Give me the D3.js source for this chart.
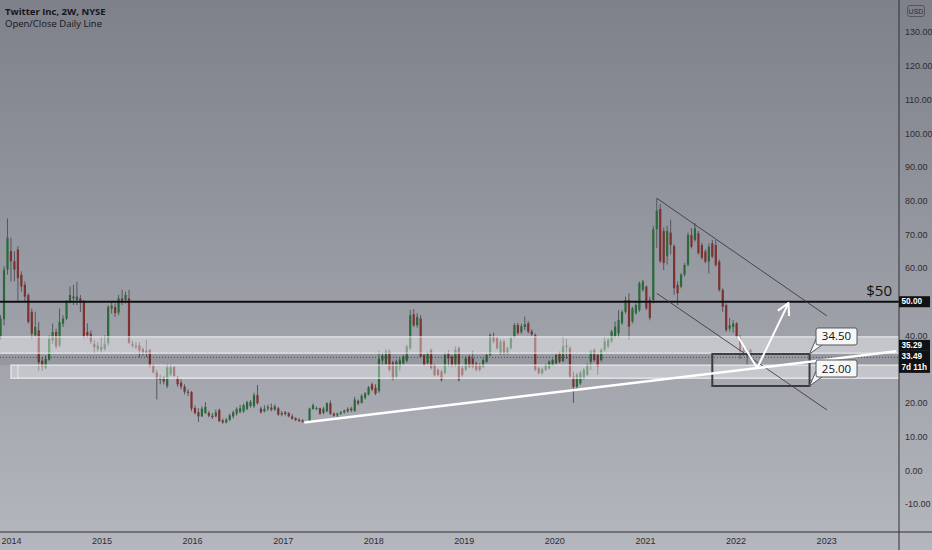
<!DOCTYPE html>
<html><head><meta charset="utf-8">
<script src="https://cdn.jsdelivr.net/npm/d3@7"></script>
<style>html,body{margin:0;padding:0;overflow:hidden;background:#9a9ca3}svg{display:block}</style>
</head><body><svg id="c" width="932" height="550"></svg>
<script>
// ---- data: Twitter Inc, 2W bars, first bar 2013-10-28 ----
const barStart = "2013-10-28";
const barDays = 14;
const open = [45.1,41.6,39.5,44.8,59.5,65,62,65.5,58,55,52,47,40,41.5,32.5,30.5,32.8,38.5,41,37,43.5,45,50,51.5,50.5,51,50,41,40.5,37.5,36,36.5,36,37.7,48,48.4,46.8,51,50.5,51,37.5,37,37,36,35.5,35.7,31,29,26.8,27.7,25,28.5,30.6,27.5,26,24.8,23.3,23.2,18.5,17.2,16,17,17,16.2,16,17.9,14.8,14.2,15,16,16.8,17.3,17.5,18.2,19,19,22.3,18.3,17.5,18.3,18.6,18,18.4,16.5,17.2,16.9,16,15.4,15,14.8,14.4,14.4,18.2,18.3,18.4,17,17.5,19.9,16.8,16.3,16.8,17.2,17.5,18.3,17.6,20.6,20,21.5,22.5,25.5,24.5,23.5,32.5,31.5,35.2,32,27.8,30.8,31.7,32.5,36.2,46.3,43,45,34.2,31.8,35.7,31.2,29.8,29.3,28.9,34.8,33.7,31.2,36.3,30.3,29.8,33.7,33.2,31.7,31.2,30.7,32.2,34.2,39.6,39.2,34.7,38.2,34.7,36.2,39.6,43.1,41,42.5,43.6,41.2,40.1,30.3,28.8,29.8,30.2,31.2,31.7,34.8,32.4,36.5,36.3,27.8,24.8,25.8,27.4,28.3,32.2,35.7,34.2,32.7,35.7,36.7,38.2,39.7,40.6,43.6,47,50.5,44.1,46.6,47.5,53.5,54.5,50.5,50.5,71.5,77.5,71,63.5,70.5,66.5,55,54.5,58,61,69.8,68.3,70.3,66.8,64.9,61.9,67.3,66.8,61.9,53.5,49,42,42.5,43.6,39.7,35.5,35,35.7];
const high = [50.1,44.5,46,60.5,74.7,69,65,66.5,59,56,52.5,48,47,44,33.5,34,40,43.5,42,48,46,50.5,54.5,55,55.9,52,50.5,43.6,41.5,38.6,38,39.5,40,49,50,49.5,52,53.5,53,53.5,38.5,38,38,36.5,38.7,36,31.5,29.8,28.3,28,31.5,31.5,31,28,27,25.5,24,23.5,19.2,18.4,19,20.2,17.6,17,18,18.3,15.3,15.5,16.8,17.7,18.7,19.4,19.8,20.6,20.8,23,25.3,18.9,19.3,19.5,19.8,19.5,18.8,17.6,17.6,17.3,16.7,15.8,15.5,15.2,14.7,18.6,19.8,18.9,18.6,18.8,20.2,20.7,17.2,17.1,17.6,18,18.7,18.9,21.8,21,22.6,23.2,25,26,25.5,35.5,35,35.9,35.9,32.5,32.8,33.5,34.2,37.2,47.6,47.8,46.6,46,34.8,35.2,36.2,31.6,30.2,29.8,35,35.7,34.2,36.7,36.7,31.1,33.8,34.2,35.5,32.2,31.7,33.2,34.7,40.6,40.8,39.7,38.8,38.7,36.7,39.7,43.6,43.8,43.5,45.6,44.2,41.8,40.6,30.8,30.5,31.6,32.6,33.1,34.7,35.2,39.7,39,36.8,29.3,29,29.5,30.3,31.7,35.7,36.2,34.7,36.2,39.7,39.2,41.6,44.1,47.5,47.5,51.5,52.5,48.5,49.5,56,56.5,54.8,51.5,72.5,80.7,79,72,72.5,74.3,67,56,58.5,61.5,70.5,71.8,73.3,71,67.5,65.5,67.3,68.3,68.3,62.5,54,49.5,45.2,44.5,44,40.1,36.5,36.2,36];
const low = [40.7,38.8,38.8,43,58,56,56,50.3,53,50,43.5,39,39.5,29.5,29.5,30,32.5,37.5,36,36.5,42.5,44.5,49.5,49,49,47,39,39.2,37.5,34.8,35.2,35,35.5,37,46.5,45.5,46,49,49.5,37.5,36.3,36,33.5,34,33.6,30.5,28.7,21,25.5,25.5,24.4,28,27.7,24.8,24,22.5,22,17.5,16.5,14.3,15.8,16.7,15.7,15.2,15.7,14.3,13.8,13.9,14.6,15.4,16.2,16.9,17,17.8,18.6,18.5,19.5,16.8,17.2,17.6,17.5,17.6,16.2,16,16.2,15.7,15,14.6,14.3,14.1,13.9,14.2,17.9,17.8,16.4,16.6,17.2,16.4,15.9,15.8,16.4,16.8,17.1,17.3,17.3,19.3,19.8,21,22.2,23.5,22.3,23,31,31,29.3,26.7,27.3,29.5,31.3,32,35.7,42.5,42.3,33.5,30.8,31.3,29.8,27.8,27.9,26.3,28.4,30.8,30.5,30.7,26.3,27.8,29.4,30.3,30.2,29.3,29.3,30.3,31.8,33.8,37.6,35.8,34.2,34.2,34.3,35.8,39.2,40.2,40.5,41.6,40.6,39.8,29.4,28.4,28.4,29.4,29.9,30.9,31.4,31.8,32.1,33,27.3,20,23.8,25.3,26.9,27.9,29.8,32.2,28.3,32.2,35.2,36.2,37.8,39.2,39.2,43.2,46.5,38.7,43.6,46.2,47,53,47.5,44.5,49.5,66,61.5,59.4,61,64,52,49,54,57.5,60.5,65.8,67.8,64,62.5,61.4,58.4,62.9,60.4,53,47,41,41.2,40.8,39.2,33,34,31.3,33.2];
const close = [41.6,40.8,45,59.5,69,62,59.5,57,54.5,51.5,44,40.5,42.5,32,30.8,33,39,41,36.7,44,45,50,52,51,51.5,50,39.7,40,38.2,36.5,37,35.8,37.5,48.4,48.8,46.6,51,50,52,37.8,37,36.5,35.5,35,34.8,31,29,27,27.5,26.3,30.5,30.5,28,25.5,24.8,23.3,23.1,18.3,17,16,18.3,18.8,16.2,15.8,17.2,14.6,14.2,15,16.3,17.2,18.2,18.4,19.3,20.2,20.3,22.3,19.9,17.2,18.2,18.8,18,19,16.5,17,16.7,16,15.3,14.9,14.6,14.4,14.1,18.3,19.3,18.5,16.8,18.3,19.9,16.8,16.2,16.8,17.2,17.7,18.2,17.8,21,19.8,22.1,22.8,24.6,24,22.8,33,34,35.2,29.8,27.3,32.2,32.6,33.7,36.7,46,43,45.5,33.7,31.2,34.8,30.3,28.2,28.3,26.8,34.2,33.2,31.2,35.7,26.8,28.3,33.2,30.7,30.7,29.8,29.8,32.7,34.2,40.1,38.2,36.2,38.2,34.7,36.2,39.2,43.1,40.7,42.7,43.3,41.1,40.3,29.8,28.8,30,31.2,32.2,32.7,34.2,32.2,36.7,37,27.8,24.8,28.3,28.9,29.8,31.2,35.2,32.7,30.7,35.7,38.2,38.7,41.1,42.6,44.6,47,50.5,42.6,48,49,55.5,56,48,45.2,71.5,77,62,61.5,71,66.8,54,52.5,58,60.9,69.8,66.3,71.8,64.4,63,61.9,66.3,63.4,60.9,53.5,48.5,41.6,43,43.5,39.7,35.5,35,35.5,33.49];

const priceTicks = [-10,0,10,20,30,40,50,60,70,80,90,100,110,120,130];
const yearTicks = [2014,2015,2016,2017,2018,2019,2020,2021,2022,2023];

// drawings (date, price)
const levelPrice = 50;
const zoneUpper = [39.6, 34.7];
const zoneGap = [34.7, 31.2];
const zoneLower = [31.2, 27.3];
const zoneLowerStart = "2014-01-06";
const zoneLowerHandle = "2014-02-03";
const trendLine = [["2017-04-03", 14.2], ["2023-10-16", 35.29]];
const channelUpper = [["2021-02-22", 80.7], ["2023-01-09", 45.8]];
const channelLower = [["2021-02-22", 52.5], ["2023-01-09", 17.9]];
const targetBox = {from: "2021-10-04", to: "2022-10-31", top: 34.5, bottom: 25};
const arrowPath = [["2022-01-16", 39.6], ["2022-04-03", 30.35], ["2022-08-07", 49.6]];
const lastPrice = 33.49, trendAtAxis = 35.29;

// ---- drawing ----
const W = 932, H = 550, axisX = 899, axisY = 532;
const FONT = "'Liberation Sans','Open Sans',sans-serif";
const svg = d3.select("#c");
const pd = s => new Date(s + "T00:00:00Z");
const barDates = open.map((_, i) => new Date(pd(barStart).getTime() + i * barDays * 864e5));
const x = d3.scaleUtc().domain([pd("2013-10-28"), pd("2022-03-07")]).range([-6.4, 750.5]);
const y = d3.scaleLinear().domain([-10, 130]).range([504, 32]);

const defs = svg.append("defs");
const g = defs.append("linearGradient").attr("id", "bg").attr("x1", 0).attr("x2", 0).attr("y1", 0).attr("y2", 1);
g.append("stop").attr("offset", 0).attr("stop-color", "#7e808a");
g.append("stop").attr("offset", 1).attr("stop-color", "#b5b7be");
defs.append("clipPath").attr("id", "plot").append("rect").attr("x", 0).attr("y", 0).attr("width", axisX).attr("height", axisY);

svg.append("rect").attr("width", W).attr("height", H).attr("fill", "url(#bg)");

const plot = svg.append("g").attr("clip-path", "url(#plot)");

// candles
const up = "#2a6a3a", dn = "#7d3131", wick = "#55575e";
const cg = plot.append("g");
cg.selectAll("line").data(barDates).join("line")
  .attr("x1", d => x(d)).attr("x2", d => x(d))
  .attr("y1", (d, i) => y(high[i])).attr("y2", (d, i) => y(low[i]))
  .attr("stroke", wick).attr("stroke-width", 1);
cg.selectAll("rect").data(barDates).join("rect")
  .attr("x", d => x(d) - 1.1).attr("width", 2.2)
  .attr("y", (d, i) => y(Math.max(open[i], close[i])))
  .attr("height", (d, i) => Math.max(1, Math.abs(y(open[i]) - y(close[i]))))
  .attr("fill", (d, i) => close[i] >= open[i] ? up : dn);

// zones
plot.append("rect").attr("x", 0).attr("width", axisX)
  .attr("y", y(zoneGap[0])).attr("height", y(zoneGap[1]) - y(zoneGap[0]))
  .attr("fill", "rgba(0,0,0,0.07)");
plot.append("rect").attr("x", -2).attr("width", axisX + 4)
  .attr("y", y(zoneUpper[0])).attr("height", y(zoneUpper[1]) - y(zoneUpper[0]))
  .attr("fill", "rgba(255,255,255,0.38)").attr("stroke", "rgba(255,255,255,0.55)").attr("stroke-width", 1.5);
plot.append("rect").attr("x", x(pd(zoneLowerStart))).attr("width", axisX + 4 - x(pd(zoneLowerStart)))
  .attr("y", y(zoneLower[0])).attr("height", y(zoneLower[1]) - y(zoneLower[0]))
  .attr("fill", "rgba(255,255,255,0.36)").attr("stroke", "rgba(255,255,255,0.6)").attr("stroke-width", 1.5);
plot.append("line").attr("x1", x(pd(zoneLowerHandle))).attr("x2", x(pd(zoneLowerHandle)))
  .attr("y1", y(zoneLower[0])).attr("y2", y(zoneLower[1]))
  .attr("stroke", "rgba(255,255,255,0.6)").attr("stroke-width", 1);

// last price dotted line
plot.append("line").attr("x1", 0).attr("x2", axisX).attr("y1", y(lastPrice)).attr("y2", y(lastPrice))
  .attr("stroke", "#3a3c42").attr("stroke-width", 1).attr("stroke-dasharray", "1,2").attr("opacity", 0.8);

// $50 level
plot.append("line").attr("x1", 0).attr("x2", axisX).attr("y1", y(levelPrice)).attr("y2", y(levelPrice))
  .attr("stroke", "#0e0e10").attr("stroke-width", 2);

// channel
const ln = d3.line().x(d => x(pd(d[0]))).y(d => y(d[1]));
[channelUpper, channelLower].forEach(c => plot.append("path").attr("d", ln(c))
  .attr("fill", "none").attr("stroke", "#35373c").attr("stroke-width", 1).attr("opacity", 0.85));

// target box
plot.append("rect").attr("x", x(pd(targetBox.from))).attr("width", x(pd(targetBox.to)) - x(pd(targetBox.from)))
  .attr("y", y(targetBox.top)).attr("height", y(targetBox.bottom) - y(targetBox.top))
  .attr("fill", "rgba(255,255,255,0.04)").attr("stroke", "#3b3d42").attr("stroke-width", 2);

// trend line
plot.append("path").attr("d", ln(trendLine)).attr("fill", "none")
  .attr("stroke", "#ffffff").attr("stroke-width", 2.5);

// arrow
plot.append("path").attr("d", ln(arrowPath)).attr("fill", "none")
  .attr("stroke", "#ffffff").attr("stroke-width", 2).attr("stroke-linejoin", "round");
{
  const a = arrowPath[arrowPath.length - 2], b = arrowPath[arrowPath.length - 1];
  const x1 = x(pd(a[0])), y1 = y(a[1]), x2 = x(pd(b[0])), y2 = y(b[1]);
  const ang = Math.atan2(y2 - y1, x2 - x1), L = 13, sp = 0.5;
  const p1 = [x2 - L * Math.cos(ang - sp), y2 - L * Math.sin(ang - sp)];
  const p2 = [x2 - L * Math.cos(ang + sp), y2 - L * Math.sin(ang + sp)];
  plot.append("path").attr("d", `M${p1}L${x2},${y2}L${p2}`).attr("fill", "none")
    .attr("stroke", "#fff").attr("stroke-width", 2).attr("stroke-linejoin", "round");
}

// callouts
[[targetBox.top, "34.50"], [targetBox.bottom, "25.00"]].forEach(([v, t]) => {
  const cx = x(pd(targetBox.to)), cy = y(v);
  const bx = cx + 6.5, by = cy - 26, bw = 41, bh = 17;
  const gg = svg.append("g");
  gg.append("path").attr("d", `M${bx},${by + bh - 6}L${cx},${cy}L${bx + 6},${by + bh}`)
    .attr("fill", "#f4f4f4").attr("stroke", "#55575c").attr("stroke-width", 1);
  gg.append("rect").attr("x", bx).attr("y", by).attr("width", bw).attr("height", bh).attr("rx", 2)
    .attr("fill", "#f7f7f7").attr("stroke", "#55575c").attr("stroke-width", 1);
  gg.append("text").attr("x", bx + bw / 2).attr("y", by + 12.5).attr("text-anchor", "middle")
    .attr("font-family", "'Open Sans','DejaVu Sans',sans-serif").attr("font-size", 11.5)
    .attr("fill", "#111").text(t);
});

// $50 text
svg.append("text").attr("x", 892).attr("y", y(levelPrice) - 6).attr("text-anchor", "end")
  .attr("font-family", "'Open Sans','DejaVu Sans',sans-serif").attr("font-size", 15)
  .attr("fill", "#111").text("$50");

// axes lines
svg.append("line").attr("x1", axisX).attr("x2", axisX).attr("y1", 0).attr("y2", H).attr("stroke", "#2e3035").attr("stroke-width", 1);
svg.append("line").attr("x1", 0).attr("x2", W).attr("y1", axisY).attr("y2", axisY).attr("stroke", "#2e3035").attr("stroke-width", 1);

// price tags on the axis: [top, height, lines]
const tags = [
  [y(levelPrice) - 5.5, 11, [levelPrice.toFixed(2)]],
  [y(lastPrice) - 17.5, 11, [trendAtAxis.toFixed(2)]],
  [y(lastPrice) - 6.5, 22, [lastPrice.toFixed(2), "7d 11h"]]
];

// price axis (tick labels that sit under a price tag are hidden, as in the reference)
const shownTicks = priceTicks.filter(t => tags.every(([top, h]) => y(t) < top - 2 || y(t) > top + h + 2));
const ya = svg.append("g").attr("transform", `translate(${axisX},0)`)
  .call(d3.axisRight(y).tickValues(shownTicks).tickSize(0).tickPadding(6).tickFormat(d => d.toFixed(2)));
ya.select(".domain").remove();
ya.selectAll("text").attr("font-family", FONT).attr("font-size", 9).attr("fill", "#2c2d31");

// time axis
const xa = svg.append("g").attr("transform", `translate(0,${axisY})`)
  .call(d3.axisBottom(x).tickValues(yearTicks.map(v => new Date(Date.UTC(v, 0, 6)))).tickSize(0).tickPadding(6).tickFormat(d3.utcFormat("%Y")));
xa.select(".domain").remove();
xa.selectAll("text").attr("font-family", FONT).attr("font-size", 9).attr("fill", "#2c2d31");

tags.forEach(([yTop, h, lines]) => {
  svg.append("rect").attr("x", axisX).attr("y", yTop).attr("width", 31).attr("height", h).attr("fill", "#111214");
  lines.forEach((t, i) => svg.append("text").attr("x", axisX + 2.5).attr("y", yTop + 8 + i * 10.8)
    .attr("font-family", FONT).attr("font-size", 8.2).attr("font-weight", 700)
    .attr("fill", "#fff").text(t));
});

// USD badge
svg.append("rect").attr("x", 907.5).attr("y", 5.5).attr("width", 17).attr("height", 11).attr("rx", 2.5)
  .attr("fill", "none").attr("stroke", "#4a4c52").attr("stroke-width", 0.8);
svg.append("text").attr("x", 916).attr("y", 14).attr("text-anchor", "middle")
  .attr("font-family", FONT).attr("font-size", 7).attr("fill", "#2c2d31").text("USD");

// title
svg.append("text").attr("x", 5).attr("y", 15).attr("font-family", "'Open Sans','Noto Sans',sans-serif")
  .attr("font-size", 9.5).attr("font-weight", 700).attr("fill", "#151618").text("Twitter Inc, 2W, NYSE");
svg.append("text").attr("x", 5).attr("y", 27).attr("font-family", "'Open Sans','Noto Sans',sans-serif")
  .attr("font-size", 9.5).attr("fill", "#151618").text("Open/Close Daily Line");
</script></body></html>
